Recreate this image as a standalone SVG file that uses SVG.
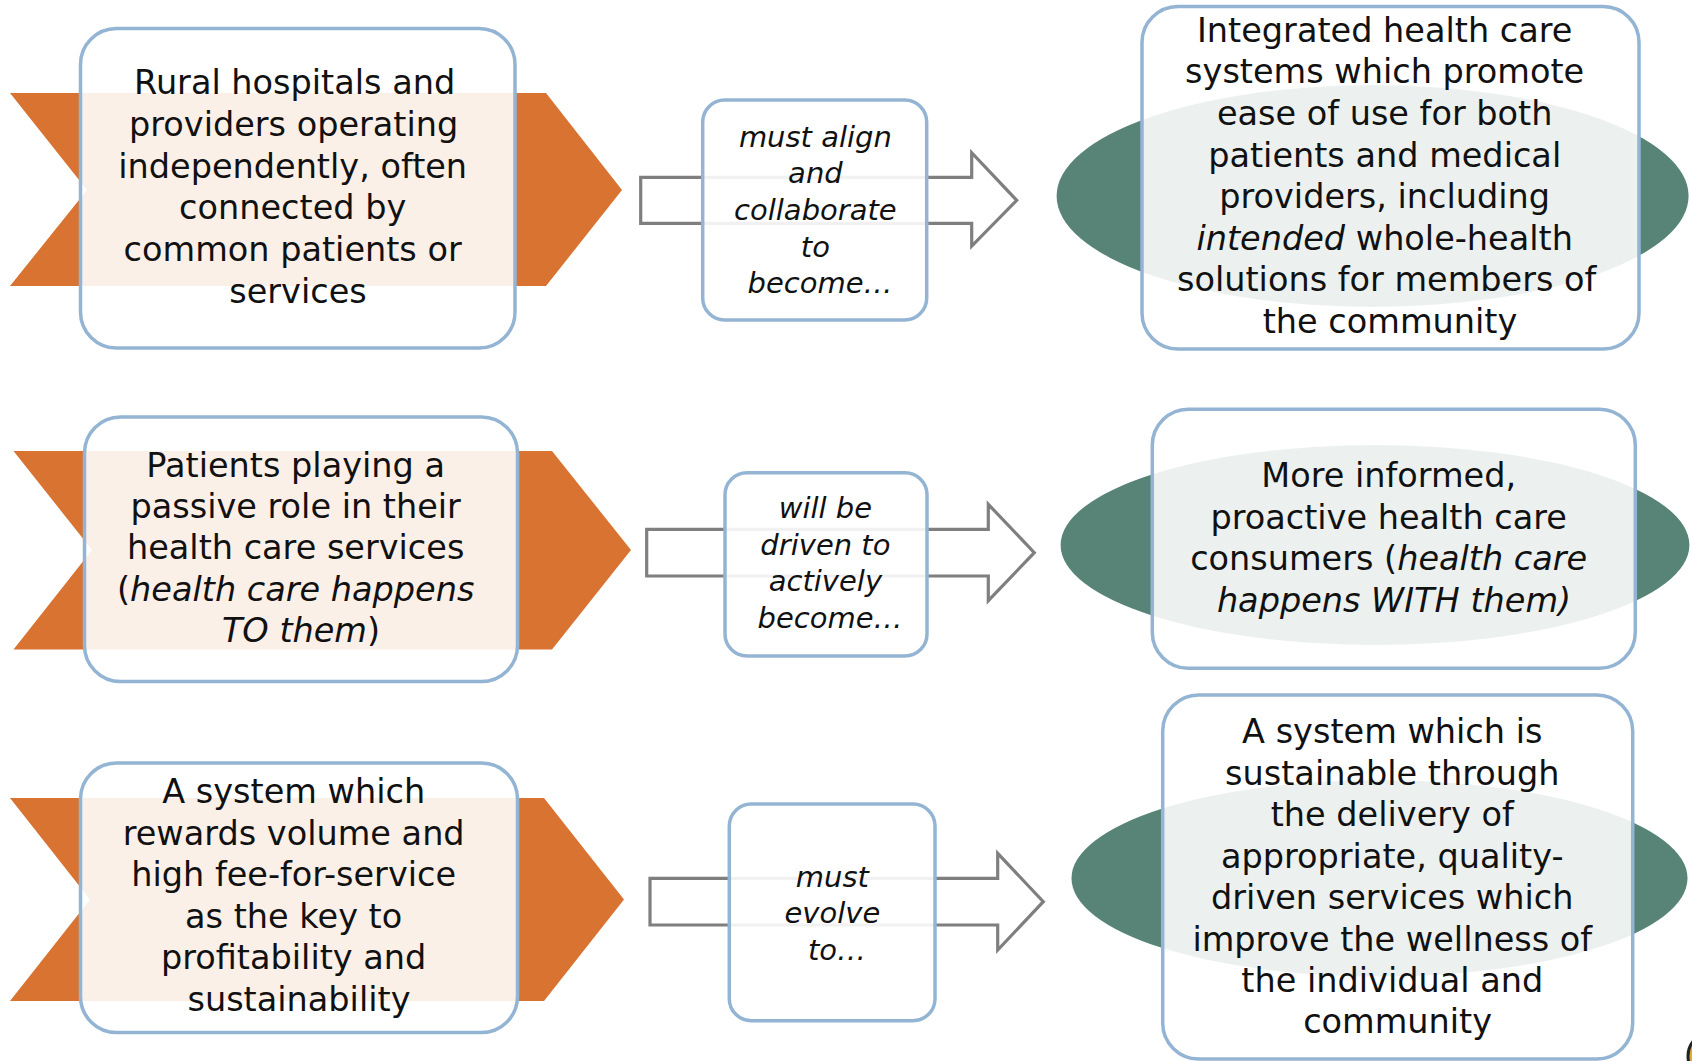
<svg xmlns="http://www.w3.org/2000/svg" width="1692" height="1061" viewBox="0 0 1692 1061">
  <style>
    .chev { fill: #D97332; }
    .oval { fill: #588477; }
    .card { fill: #FFFFFF; fill-opacity: 0.89; stroke: #94B4D4; stroke-width: 3.5; }
    .flow { fill: #FFFFFF; stroke: #7F7F7F; stroke-width: 3.2; stroke-linejoin: miter; }
    .big { font-family: "DejaVu Sans", "Liberation Sans", sans-serif; font-size: 33.5px; fill: #111111; text-anchor: middle; }
    .small { font-family: "DejaVu Sans", "Liberation Sans", sans-serif; font-size: 29px; font-style: italic; fill: #111111; text-anchor: middle; }
    .it { font-style: italic; }
  </style>
  <rect width="1692" height="1061" fill="#FFFFFF"/>

  <!-- block arrows between the current and future states -->
  <g id="connectors">
    <path class="flow" d="M640.7,177.3 H971.7 V152.7 L1016.7,200.3 L971.7,246 V223.3 H640.7 Z"/>
    <path class="flow" d="M646.7,529.3 H988.3 V504.3 L1034.3,552.7 L988.3,600.7 V576 H646.7 Z"/>
    <path class="flow" d="M650,878.3 H997.7 V853.3 L1043.3,901.7 L997.7,950 V925 H650 Z"/>
  </g>

  <!-- row 1 -->
  <g id="current-1">
    <polygon class="chev" points="10,93 546,93 622,190 546,286 10,286 87,190"/>
    <rect class="card" x="80.5" y="28.5" width="434.5" height="319.5" rx="36"/>
    <text class="big" x="298">
      <tspan x="300" y="94">Rural hospitals and</tspan>
      <tspan x="299" y="135.8">providers operating</tspan>
      <tspan x="298" y="177.6">independently, often</tspan>
      <tspan x="298" y="219.4">connected by</tspan>
      <tspan x="298" y="261.2">common patients or</tspan>
      <tspan x="298" y="303">services</tspan>
    </text>
  </g>
  <g id="change-1">
    <rect class="card" x="702.7" y="100" width="224" height="220" rx="22"/>
    <text class="small">
      <tspan x="820" y="146.7">must align</tspan>
      <tspan x="820" y="183.3">and</tspan>
      <tspan x="820" y="220">collaborate</tspan>
      <tspan x="820" y="256.7">to</tspan>
      <tspan x="820" y="293.3">become…</tspan>
    </text>
  </g>
  <g id="future-1">
    <ellipse class="oval" cx="1372.6" cy="196" rx="316" ry="111"/>
    <rect class="card" x="1142" y="6.5" width="497" height="342.5" rx="36"/>
    <text class="big">
      <tspan x="1390" y="41.7">Integrated health care</tspan>
      <tspan x="1390" y="83.3">systems which promote</tspan>
      <tspan x="1390" y="124.9">ease of use for both</tspan>
      <tspan x="1390" y="166.5">patients and medical</tspan>
      <tspan x="1390" y="208.1">providers, including</tspan>
      <tspan x="1390" y="249.7"><tspan class="it">intended</tspan> whole-health</tspan>
      <tspan x="1392" y="291.3">solutions for members of</tspan>
      <tspan x="1390" y="332.9">the community</tspan>
    </text>
  </g>

  <!-- row 2 -->
  <g id="current-2">
    <polygon class="chev" points="13.5,451 552,451 631,550 552,649.5 13.5,649.5 92,550"/>
    <rect class="card" x="84.5" y="417" width="433" height="264.5" rx="36"/>
    <text class="big">
      <tspan x="301" y="476.7">Patients playing a</tspan>
      <tspan x="301" y="518">passive role in their</tspan>
      <tspan x="301" y="559.3">health care services</tspan>
      <tspan x="301" y="600.6">(<tspan class="it">health care happens</tspan></tspan>
      <tspan x="301" y="641.9"><tspan class="it">TO them</tspan>)</tspan>
    </text>
  </g>
  <g id="change-2">
    <rect class="card" x="725" y="472.7" width="202" height="183.3" rx="22"/>
    <text class="small">
      <tspan x="830" y="518.3">will be</tspan>
      <tspan x="830" y="554.8">driven to</tspan>
      <tspan x="830" y="591.3">actively</tspan>
      <tspan x="830" y="627.8">become…</tspan>
    </text>
  </g>
  <g id="future-2">
    <ellipse class="oval" cx="1375" cy="545" rx="314.4" ry="100"/>
    <rect class="card" x="1152.3" y="409.3" width="483" height="259" rx="36"/>
    <text class="big">
      <tspan x="1394" y="487.3">More informed,</tspan>
      <tspan x="1394" y="528.8">proactive health care</tspan>
      <tspan x="1394" y="570.3">consumers (<tspan class="it">health care</tspan></tspan>
      <tspan x="1394" y="611.8"><tspan class="it">happens WITH them)</tspan></tspan>
    </text>
  </g>

  <!-- row 3 -->
  <g id="current-3">
    <polygon class="chev" points="10,798 544,798 624,899.5 544,1001 10,1001 90,899.5"/>
    <rect class="card" x="80.5" y="763" width="437" height="269.5" rx="36"/>
    <text class="big">
      <tspan x="299" y="803.3">A system which</tspan>
      <tspan x="299" y="844.8">rewards volume and</tspan>
      <tspan x="299" y="886.3">high fee-for-service</tspan>
      <tspan x="299" y="927.8">as the key to</tspan>
      <tspan x="299" y="969.3">profitability and</tspan>
      <tspan x="299" y="1010.8">sustainability</tspan>
    </text>
  </g>
  <g id="change-3">
    <rect class="card" x="729.3" y="804" width="205.7" height="216.7" rx="22"/>
    <text class="small">
      <tspan x="837" y="886.7">must</tspan>
      <tspan x="837" y="923.3">evolve</tspan>
      <tspan x="837" y="959.6">to…</tspan>
    </text>
  </g>
  <g id="future-3">
    <ellipse class="oval" cx="1379.5" cy="878.3" rx="308" ry="98.3"/>
    <rect class="card" x="1162.7" y="695" width="470" height="364" rx="36"/>
    <text class="big">
      <tspan x="1397.6" y="743.3">A system which is</tspan>
      <tspan x="1397.6" y="784.7">sustainable through</tspan>
      <tspan x="1397.6" y="826.2">the delivery of</tspan>
      <tspan x="1397.6" y="867.6">appropriate, quality-</tspan>
      <tspan x="1397.6" y="909">driven services which</tspan>
      <tspan x="1397.6" y="950.5">improve the wellness of</tspan>
      <tspan x="1397.6" y="991.9">the individual and</tspan>
      <tspan x="1397.6" y="1033.3">community</tspan>
    </text>
  </g>

  <!-- corner emblem, mostly off the page -->
  <g id="emblem">
    <circle cx="1712" cy="1056" r="24" fill="#E2A930" stroke="#222222" stroke-width="3"/>
  </g>
</svg>
